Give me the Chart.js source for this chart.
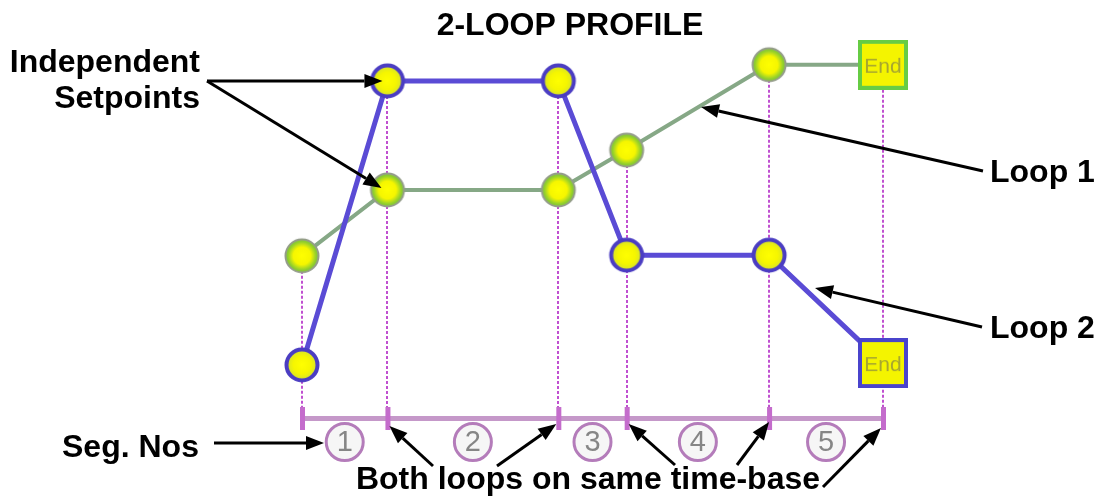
<!DOCTYPE html>
<html>
<head>
<meta charset="utf-8">
<script src="https://cdn.jsdelivr.net/npm/chart.js@4.4.1/dist/chart.umd.min.js"></script>
<style>
  html, body { margin: 0; padding: 0; background: #fff; }
  canvas { display: block; }
</style>
</head>
<body>
<canvas id="profile" width="1097" height="500"></canvas>
<script>
// segment start/end times (minutes) shared by both loops
const segTimes = [0, 15, 45, 57, 82, 102];
const loop1 = [44.3, 62.3, 62.3, 73.2, 96.5, 96.5];
const loop2 = [14.5, 92.1, 92.1, 44.5, 44.5, 15];
const segLabels = ["1", "2", "3", "4", "5"];

const FONT = '"Liberation Sans", Arial, sans-serif';

function circleMarker(ring, edge, edgeWidth) {
  const r = 17.5;
  const c = document.createElement("canvas");
  c.width = c.height = 40;
  const g = c.getContext("2d");
  const m = c.width / 2;
  const grad = g.createRadialGradient(m, m, 0, m, m, r);
  grad.addColorStop(0, "#ffff00");
  grad.addColorStop(0.5, "#f6f600");
  grad.addColorStop(0.82, ring);
  grad.addColorStop(1, ring);
  g.beginPath();
  g.arc(m, m, r - edgeWidth / 2, 0, Math.PI * 2);
  g.fillStyle = grad;
  g.fill();
  g.lineWidth = edgeWidth;
  g.strokeStyle = edge;
  g.stroke();
  return c;
}

function endMarker(border) {
  const c = document.createElement("canvas");
  c.width = c.height = 50;
  const g = c.getContext("2d");
  g.fillStyle = "#f4f400";
  g.fillRect(0, 0, 50, 50);
  g.lineWidth = 4;
  g.strokeStyle = border;
  g.strokeRect(2, 2, 46, 46);
  g.fillStyle = "#a6a630";
  g.font = "21px " + FONT;
  g.textAlign = "center";
  g.textBaseline = "middle";
  g.fillText("End", 25, 27);
  return c;
}

const l1Dot = circleMarker("#8ccc30", "#949c8a", 2);
const l2Dot = circleMarker("#d8e428", "#4b3dc2", 4);
const l1End = endMarker("#66cc44");
const l2End = endMarker("#4a44cc");

function styles(dot, end) {
  return segTimes.map((t, i) => (i === segTimes.length - 1 ? end : dot));
}

function arrow(ctx, x1, y1, x2, y2) {
  const a = Math.atan2(y2 - y1, x2 - x1);
  const len = 18, half = 7;
  const bx = x2 - len * Math.cos(a), by = y2 - len * Math.sin(a);
  ctx.beginPath();
  ctx.moveTo(x1, y1);
  ctx.lineTo(bx, by);
  ctx.lineWidth = 3;
  ctx.strokeStyle = "#000";
  ctx.stroke();
  ctx.beginPath();
  ctx.moveTo(x2, y2);
  ctx.lineTo(bx + half * Math.sin(a), by - half * Math.cos(a));
  ctx.lineTo(bx - half * Math.sin(a), by + half * Math.cos(a));
  ctx.closePath();
  ctx.fillStyle = "#000";
  ctx.fill();
}

const timeBase = {
  id: "timeBase",
  beforeDatasetsDraw(chart) {
    const ctx = chart.ctx;
    const xs = chart.scales.x, ys = chart.scales.y;
    const axisY = chart.chartArea.bottom;
    ctx.save();
    // dotted drop lines
    ctx.setLineDash([3, 2]);
    ctx.lineWidth = 2;
    ctx.strokeStyle = "#c050d0";
    segTimes.forEach((t, i) => {
      const x = Math.round(xs.getPixelForValue(t));
      const top = ys.getPixelForValue(Math.max(loop1[i], loop2[i]));
      ctx.beginPath();
      ctx.moveTo(x, top);
      ctx.lineTo(x, axisY);
      ctx.stroke();
    });
    ctx.setLineDash([]);
    // segment axis
    const x0 = xs.getPixelForValue(segTimes[0]);
    const xn = xs.getPixelForValue(segTimes[segTimes.length - 1]);
    ctx.fillStyle = "#c598c9";
    ctx.fillRect(x0, axisY - 2, xn - x0, 5);
    ctx.fillStyle = "#c46ccc";
    segTimes.forEach((t) => {
      const x = xs.getPixelForValue(t);
      ctx.fillRect(x - 2, axisY - 11, 5, 23);
    });
    // segment numbers
    for (let i = 0; i < segLabels.length; i++) {
      const cx = (xs.getPixelForValue(segTimes[i]) + xs.getPixelForValue(segTimes[i + 1])) / 2;
      const cy = axisY + 24;
      ctx.beginPath();
      ctx.arc(cx, cy, 18.5, 0, Math.PI * 2);
      ctx.fillStyle = "#f6f6f6";
      ctx.fill();
      ctx.lineWidth = 3;
      ctx.strokeStyle = "#b47cba";
      ctx.stroke();
      ctx.fillStyle = "#868686";
      ctx.font = "29px " + FONT;
      ctx.textAlign = "center";
      ctx.textBaseline = "middle";
      ctx.fillText(segLabels[i], cx, cy + 1);
    }
    ctx.restore();
  },
  afterDraw(chart) {
    const ctx = chart.ctx;
    const xs = chart.scales.x, ys = chart.scales.y;
    const px = (i) => xs.getPixelForValue(segTimes[i]);
    const axisY = chart.chartArea.bottom;
    ctx.save();
    ctx.fillStyle = "#000";
    ctx.font = "bold 32px " + FONT;
    ctx.textBaseline = "alphabetic";
    ctx.textAlign = "center";
    ctx.fillText("2-LOOP PROFILE", 570, 35);
    ctx.fillText("Both loops on same time-base", 588, 489);
    ctx.textAlign = "right";
    ctx.fillText("Independent", 200, 72);
    ctx.fillText("Setpoints", 200, 108);
    ctx.textAlign = "left";
    ctx.fillText("Loop 1", 990, 182);
    ctx.fillText("Loop 2", 990, 338);
    ctx.fillText("Seg. Nos", 62, 457);

    arrow(ctx, 207, 81, px(1) - 5, ys.getPixelForValue(loop2[1]));
    arrow(ctx, 207, 81, px(1) - 6, ys.getPixelForValue(loop1[1]) - 2);
    arrow(ctx, 983, 171, 701, 107);
    arrow(ctx, 982, 327, 815, 288);
    arrow(ctx, 214, 443, 324, 443);
    arrow(ctx, 433, 466, px(1) + 2, axisY + 8);
    arrow(ctx, 497, 466, px(2) - 2, axisY + 6);
    arrow(ctx, 675, 465, px(3) + 2, axisY + 6);
    arrow(ctx, 737, 465, px(4), axisY + 4);
    arrow(ctx, 823, 487, px(5) - 2, axisY + 10);
    ctx.restore();
  },
};

new Chart(document.getElementById("profile"), {
  type: "line",
  data: {
    datasets: [
      {
        label: "Loop 1",
        data: segTimes.map((t, i) => ({ x: t, y: loop1[i] })),
        borderColor: "#86a886",
        borderWidth: 4,
        pointStyle: styles(l1Dot, l1End),
        pointRadius: 17,
        clip: false,
        order: 2,
      },
      {
        label: "Loop 2",
        data: segTimes.map((t, i) => ({ x: t, y: loop2[i] })),
        borderColor: "#5a4bd5",
        borderWidth: 5,
        pointStyle: styles(l2Dot, l2End),
        pointRadius: 17,
        clip: false,
        order: 1,
      },
    ],
  },
  options: {
    responsive: false,
    animation: false,
    layout: { padding: { left: 302, right: 214, top: 52, bottom: 82 } },
    scales: {
      x: { type: "linear", min: 0, max: 102, display: false },
      y: { min: 0, max: 100, display: false },
    },
    plugins: {
      legend: { display: false },
      tooltip: { enabled: false },
    },
  },
  plugins: [timeBase],
});
</script>
</body>
</html>
